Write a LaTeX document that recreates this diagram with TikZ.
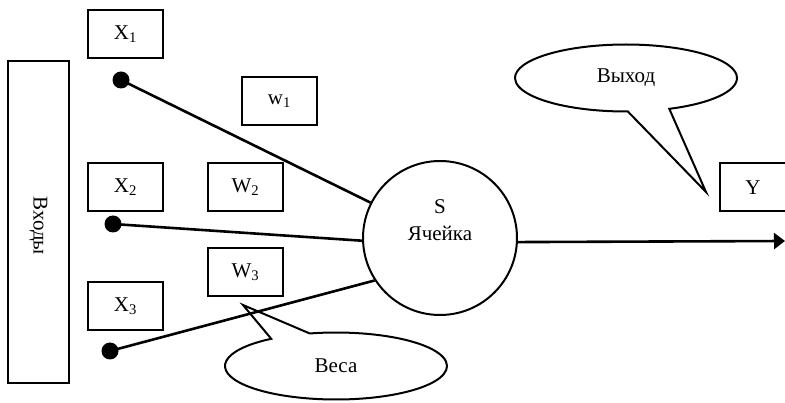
\documentclass[tikz,border=0pt]{standalone}
\usepackage{fontspec}
\setmainfont{Liberation Serif}
\usetikzlibrary{arrows.meta,shapes.callouts}
\begin{document}
\begin{tikzpicture}[x=1pt,y=-1pt,
  txt/.style={font=\fontsize{21}{27}\selectfont},
  lbl/.style={draw,line width=2pt,minimum width=75pt,minimum height=48pt,inner sep=0pt,txt},
  dotnode/.style={circle,fill=black,inner sep=0pt,minimum size=17pt},
  wire/.style={line width=2.6pt},
  bubble/.style={ellipse callout,draw,line width=2pt,minimum width=222pt,minimum height=67pt,callout pointer arc=22,txt}
]
\clip (0,0) rectangle (785,403);
\useasboundingbox (0,0) rectangle (785,403);
% inputs bar
\node[draw,line width=2pt,minimum width=61pt,minimum height=322pt,inner sep=0pt] (inputs) at (38.5,222) {};
\node[rotate=-90,txt] (inputstext) at (38.5,226) {Входы};
% labels
\node[lbl] (x1) at (125.5,34) {X\textsubscript{1}};
\node[lbl] (x2) at (125.5,187.5) {X\textsubscript{2}};
\node[lbl] (x3) at (125.5,306) {X\textsubscript{3}};
\node[lbl] (w1) at (279.5,101.5) {w\textsubscript{1}};
\node[lbl] (w2) at (245.5,187.5) {W\textsubscript{2}};
\node[lbl] (w3) at (245.5,272) {W\textsubscript{3}};
\node[lbl,minimum width=80pt,anchor=west] (y) at (719,187.5) {\hspace*{-14pt}Y};
% dots
\node[dotnode] (d1) at (121,80) {};
\node[dotnode] (d2) at (113,224) {};
\node[dotnode] (d3) at (110,351) {};
% cell
\node[circle,draw,line width=2pt,minimum size=154pt,inner sep=0pt] (cell) at (440,238) {};
\node[align=center,txt] (celltext) at (440,220) {S\\Ячейка};
% wires
\draw[wire] (d1.center) -- (cell.153);
\draw[wire] (d2.center) -- (cell.182);
\draw[wire] (d3.center) -- (cell.213);
\coordinate (out) at (785,241);
\draw[wire,-{Triangle[length=11pt,width=16pt]}] (cell.-3) -- (out);
% callouts
\node[bubble,callout absolute pointer={(706,192)}] (vyhod) at (626,78) {Выход};
\node[bubble,callout absolute pointer={(243,305)}] (vesa) at (336,366) {Веса};
\end{tikzpicture}
\end{document}
